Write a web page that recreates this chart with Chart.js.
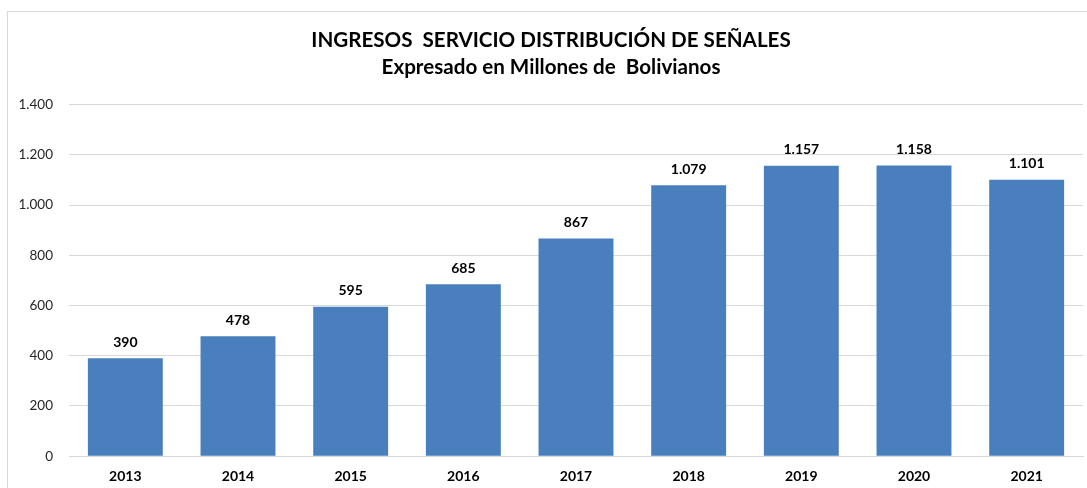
<!DOCTYPE html>
<html>
<head>
<meta charset="utf-8">
<script src="https://cdn.jsdelivr.net/npm/chart.js@4"></script>
<style>
  body { margin: 0; background: #fff; overflow: hidden; }
  #marco {
    position: absolute; left: 7px; top: 11px;
    width: 1094px; height: 485px;
    border: 1px solid #d9d9d9;
  }
</style>
</head>
<body>
<div id="marco"><canvas id="graf_ingresos" width="1094" height="485"></canvas></div>
<script>
const anios = ['2013', '2014', '2015', '2016', '2017', '2018', '2019', '2020', '2021'];
const ingresos = [390, 478, 595, 685, 867, 1079, 1157, 1158, 1101];
const titulo = ['INGRESOS  SERVICIO DISTRIBUCIÓN DE SEÑALES', 'Expresado en Millones de  Bolivianos'];

// separador de miles con punto
function formatoMiles(valor){
    return String(valor).replace(/\B(?=(\d{3})+(?!\d))/g, '.');
}

// etiquetas encima de cada barra
const etiquetasBarras = {
    id: 'etiquetasBarras',
    afterDatasetsDraw(chart){
        const ctx = chart.ctx;
        const meta = chart.getDatasetMeta(0);
        ctx.save();
        ctx.font = 'bold 14px Lato';
        ctx.fillStyle = '#000';
        ctx.textAlign = 'center';
        ctx.textBaseline = 'middle';
        meta.data.forEach((barra, i) => {
            ctx.fillText(formatoMiles(ingresos[i]), barra.x, barra.y - 16);
        });
        ctx.restore();
    }
};

function pintarChart(){
    const $ctx = document.getElementById('graf_ingresos').getContext('2d');

    const chart = new Chart($ctx, {
        type: 'bar',
        data: {
            labels: anios,
            datasets: [
                {
                    data: ingresos,
                    backgroundColor: '#4a7fbd',
                    categoryPercentage: 1,
                    barPercentage: 0.665,
                }
            ]
        },
        plugins: [etiquetasBarras],
        options: {
            responsive: false,
            animation: false,
            layout: {
                padding: { left: 11, right: 19, top: 0, bottom: 0 }
            },
            plugins: {
                legend: { display: false },
                tooltip: { enabled: false },
                title: {
                    display: true,
                    text: titulo,
                    color: '#000',
                    font: { family: 'Lato', size: 20.6, weight: 'bold', lineHeight: 1.35 },
                    padding: { top: 14, bottom: 23 },
                }
            },
            scales: {
                x: {
                    grid: { display: false, drawTicks: false },
                    border: { color: '#d9d9d9' },
                    ticks: {
                        color: '#000',
                        padding: 12,
                        font: { family: 'Lato', size: 14, weight: 'bold' },
                    }
                },
                y: {
                    min: 0,
                    max: 1400,
                    afterFit(scale){ scale.width = 50; },
                    grid: { color: '#d9d9d9', drawTicks: false },
                    border: { display: false },
                    ticks: {
                        stepSize: 200,
                        padding: 16,
                        color: '#262626',
                        font: { family: 'Lato', size: 13.5 },
                        callback: valor => formatoMiles(valor),
                    }
                }
            }
        }
    });
}

pintarChart();
</script>
</body>
</html>
